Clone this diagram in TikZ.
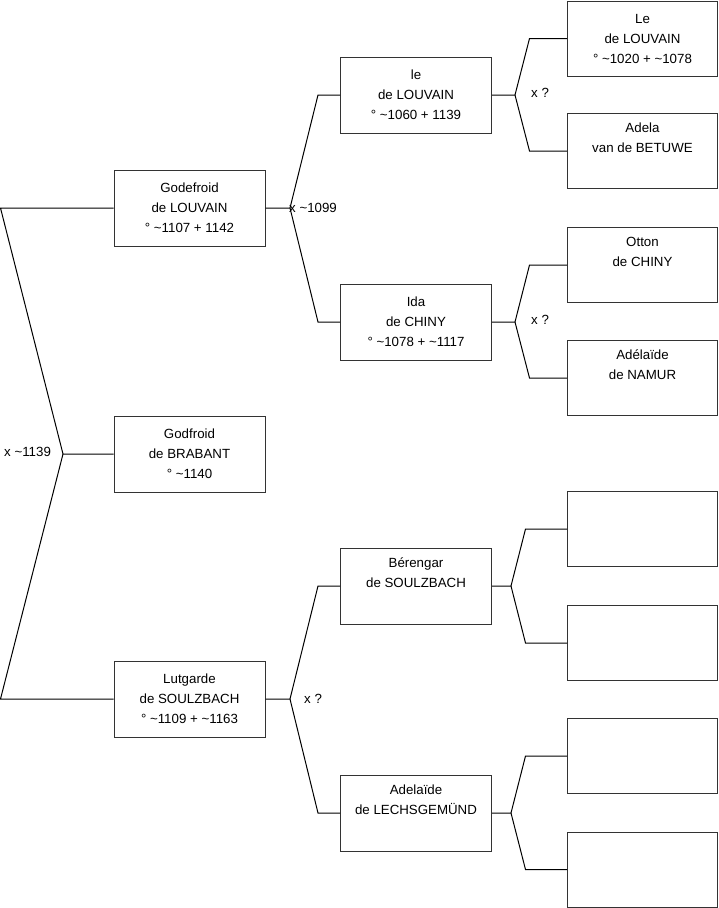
\documentclass[tikz,border=0pt]{standalone}
\usepackage{fontspec}
\setmainfont{Liberation Sans}
\begin{document}
\begin{tikzpicture}[x=1pt,y=-1pt,
  box/.style={draw=black!80, line width=1pt, minimum width=151pt, minimum height=76pt, inner sep=0pt, align=center, font=\fontsize{13.3}{20}\selectfont},
  rbox/.style={box, minimum width=150pt, minimum height=75pt},
  conn/.style={draw=black, line width=1pt},
  lbl/.style={anchor=west, inner sep=0pt, font=\fontsize{13.3}{14}\selectfont}]
\useasboundingbox (0,0) rectangle (719,908);
% column 1
\node[box] (god) at (189.5,208) {Godefroid\\de LOUVAIN\\° \textasciitilde1107 + 1142};
\node[box] (bra) at (189.5,454) {Godfroid\\de BRABANT\\° \textasciitilde1140};
\node[box] (lut) at (189.5,699) {Lutgarde\\de SOULZBACH\\° \textasciitilde1109 + \textasciitilde1163};
% column 2
\node[box] (lou) at (416,95) {le\\de LOUVAIN\\° \textasciitilde1060 + 1139};
\node[box] (ida) at (416,322) {Ida\\de CHINY\\° \textasciitilde1078 + \textasciitilde1117};
\node[box] (ber) at (416,586) {Bérengar\\de SOULZBACH\\\strut};
\node[box] (ade) at (416,813) {Adelaïde\\de LECHSGEMÜND\\\strut};
% column 3
\node[rbox] (le) at (642.5,38.5) {Le\\de LOUVAIN\\° \textasciitilde1020 + \textasciitilde1078};
\node[rbox] (adl) at (642.5,151) {Adela\\van de BETUWE\\\strut};
\node[rbox] (ott) at (642.5,265) {Otton\\de CHINY\\\strut};
\node[rbox] (nam) at (642.5,378) {Adélaïde\\de NAMUR\\\strut};
\node[rbox] (e1) at (642.5,529) {};
\node[rbox] (e2) at (642.5,643) {};
\node[rbox] (e3) at (642.5,756) {};
\node[rbox] (e4) at (642.5,869.5) {};
% junctions
\coordinate (jr) at (63,454);
\coordinate (jg) at (290,208);
\coordinate (jl) at (290,699);
\coordinate (jlo) at (515,95);
\coordinate (jid) at (515,322);
\coordinate (jbe) at (511,586);
\coordinate (jad) at (511,813);
% root
\draw[conn] (god.west) -- ([xshift=-113pt]god.west) -- (jr) -- (bra.west);
\draw[conn] (jr) -- ([xshift=-113pt]lut.west) -- (lut.west);
% level 2
\draw[conn] (god.east) -- (jg) -- ([xshift=-22pt]lou.west) -- (lou.west);
\draw[conn] (jg) -- ([xshift=-22pt]ida.west) -- (ida.west);
\draw[conn] (lut.east) -- (jl) -- ([xshift=-22pt]ber.west) -- (ber.west);
\draw[conn] (jl) -- ([xshift=-22pt]ade.west) -- (ade.west);
% level 3
\draw[conn] (lou.east) -- (jlo) -- ([xshift=-37.5pt]le.west) -- (le.west);
\draw[conn] (jlo) -- ([xshift=-37.5pt]adl.west) -- (adl.west);
\draw[conn] (ida.east) -- (jid) -- ([xshift=-37.5pt]ott.west) -- (ott.west);
\draw[conn] (jid) -- ([xshift=-37.5pt]nam.west) -- (nam.west);
\draw[conn] (ber.east) -- (jbe) -- ([xshift=-41.5pt]e1.west) -- (e1.west);
\draw[conn] (jbe) -- ([xshift=-41.5pt]e2.west) -- (e2.west);
\draw[conn] (ade.east) -- (jad) -- ([xshift=-41.5pt]e3.west) -- (e3.west);
\draw[conn] (jad) -- ([xshift=-41.5pt]e4.west) -- (e4.west);
% labels
\node[lbl] (l1) at (4,452) {x \textasciitilde1139};
\node[lbl] (l2) at (289,208) {x \textasciitilde1099};
\node[lbl] (l3) at (304,699) {x ?};
\node[lbl] (l4) at (531,93) {x ?};
\node[lbl] (l5) at (531,320) {x ?};
\end{tikzpicture}
\end{document}
